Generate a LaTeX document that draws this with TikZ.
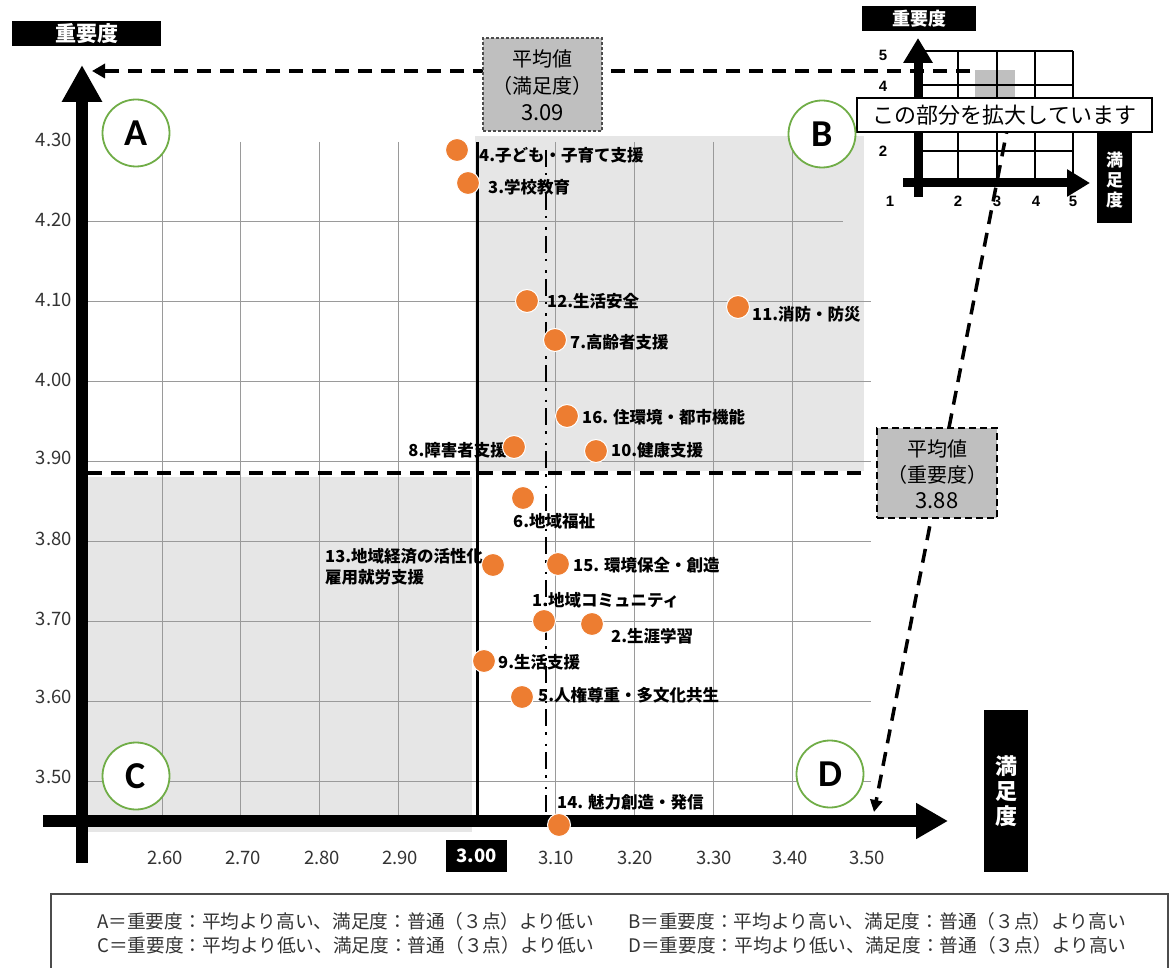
\documentclass[tikz,border=0pt]{standalone}
\usepackage{fontspec}
\setmainfont{Noto Sans CJK JP}
\newfontfamily\latb{Carlito}
\newfontfamily\arl{Liberation Sans}
\usetikzlibrary{arrows.meta}
\definecolor{orangept}{HTML}{ED7D31}
\definecolor{greenc}{HTML}{70AD47}
\definecolor{quadgray}{HTML}{E6E6E6}
\definecolor{boxgray}{HTML}{BFBFBF}
\definecolor{gridc}{HTML}{9A9A9A}
\definecolor{txt}{HTML}{333333}
\tikzset{
  pt/.style={circle, fill=orangept, draw=white, line width=1pt, minimum size=23pt, inner sep=0pt},
  lab/.style={font=\fontsize{16.5}{21}\selectfont\bfseries, inner sep=0pt, anchor=west},
  ytick/.style={font=\fontsize{18.5}{20}\selectfont, text=txt, anchor=east, inner sep=0pt},
  xtick/.style={font=\fontsize{18.5}{20}\selectfont, text=txt, inner sep=0pt},
  quad/.style={circle, draw=greenc, line width=1.8pt, fill=white, minimum size=67pt, inner sep=0pt, font=\latb\fontsize{38}{38}\selectfont\bfseries},
  gridline/.style={draw=gridc, line width=0.9pt},
  meandash/.style={line width=3.5pt, dash pattern=on 14pt off 9pt},
  blackbox/.style={fill=black, text=white, inner sep=0pt},
  insetnum/.style={font=\arl\fontsize{15}{15}\selectfont\bfseries, inner sep=0pt},
  legend/.style={font=\fontsize{18.7}{24}\selectfont, text=txt, anchor=west, inner sep=0pt, align=left},
}
\begin{document}
\begin{tikzpicture}[x=1pt,y=-1pt]
\useasboundingbox (0,0) rectangle (1173,968);

% shaded quadrants
\fill[quadgray] (475,136) rectangle (864,471);
\fill[quadgray] (88,477) rectangle (472,832);

% grid
\foreach \x in {162,240,319,398,555,634,713,792} \draw[gridline] (\x,142) -- (\x,821);
\draw[gridline] (88,221) -- (843,221);
\foreach \y in {301,381,461,541,621,701,781} \draw[gridline] (88,\y) -- (871,\y);

% mean lines
\coordinate (sattop) at (477,142);
\coordinate (satbot) at (477,815);
\draw[line width=3pt] (sattop) -- (satbot);
\coordinate (avgtop) at (546,150);
\coordinate (avgbot) at (546,815);
\draw[line width=2.8pt, dash pattern=on 17pt off 6pt on 2.5pt off 9pt on 2.5pt off 6pt] (avgtop) -- (avgbot);
\coordinate (impl) at (88,473);
\coordinate (impr) at (867,473);
\draw[meandash] (impl) -- (impr);

% inset grid
\fill[boxgray] (975,70) rectangle (1015,112);
\foreach \x in {958,997,1035,1073} \draw[line width=1.5pt] (\x,51) -- (\x,183);
\foreach \y in {51,85,118,151} \draw[line width=1.5pt] (923,\y) -- (1073,\y);

% top dashed arrow
\coordinate (topstart) at (970,71);
\coordinate (topend) at (92,71);
\draw[meandash, -{Triangle[length=13pt,width=14pt]}] (topstart) -- (topend);

% inset axes
\coordinate (iyb) at (918,197); \coordinate (iyt) at (918,38);
\draw[line width=9pt, -{Triangle[length=25pt,width=28pt]}] (iyb) -- (iyt);
\coordinate (ixl) at (903,183); \coordinate (ixr) at (1090,183);
\draw[line width=9pt, -{Triangle[length=23pt,width=26pt]}] (ixl) -- (ixr);
\node[insetnum] (i5) at (883,55) {5};
\node[insetnum] (i4) at (883,86) {4};
\node[insetnum] (i2) at (883,151) {2};
\node[insetnum] (h1) at (890,201) {1};
\node[insetnum] (h2) at (958,201) {2};
\node[insetnum] (h3) at (997,201) {3};
\node[insetnum] (h4) at (1036,201) {4};
\node[insetnum] (h5) at (1073,201) {5};
\node[blackbox, minimum width=114pt, minimum height=25pt, font=\fontsize{18}{18}\selectfont\bfseries] (ilabel) at (919,18.5) {重要度};
\node[blackbox, minimum width=35pt, minimum height=108pt] (isatbox) at (1114.5,169) {};
\node[text=white, align=center, inner sep=0pt, font=\fontsize{17}{20}\selectfont\bfseries] (isattext) at (1114.5,180) {満\\足\\度};

% diagonal dashed arrow
\coordinate (diagstart) at (1009,120);
\coordinate (diagend) at (874,812);
\draw[meandash, -{Triangle[length=12pt,width=12pt]}] (diagstart) -- (diagend);

% inset caption
\node[draw=black, line width=2pt, fill=white, minimum width=295pt, minimum height=34pt, inner sep=0pt, font=\fontsize{22}{22}\selectfont] (zoomcap) at (1004.5,115) {この部分を拡大しています};

% main axes
\coordinate (yb) at (82,863); \coordinate (yt) at (82,65);
\draw[line width=12pt, -{Triangle[length=37pt,width=38pt]}] (yb) -- (yt);
\coordinate (xl) at (43,821); \coordinate (xr) at (948,821);
\draw[line width=12pt, -{Triangle[length=32pt,width=34pt]}] (xl) -- (xr);

% axis titles
\node[blackbox, minimum width=149pt, minimum height=25pt, font=\fontsize{21}{21}\selectfont\bfseries] (ytitle) at (86.5,33.5) {重要度};
\node[blackbox, minimum width=44pt, minimum height=162pt, align=center, font=\fontsize{22}{25}\selectfont\bfseries] (xtitle) at (1006,791) {満\\足\\度};

% y ticks
\node[ytick] (y430) at (72,140) {4.30};
\node[ytick] (y420) at (72,220) {4.20};
\node[ytick] (y410) at (72,300) {4.10};
\node[ytick] (y400) at (72,380) {4.00};
\node[ytick] (y390) at (72,458) {3.90};
\node[ytick] (y380) at (72,539) {3.80};
\node[ytick] (y370) at (72,619) {3.70};
\node[ytick] (y360) at (72,697) {3.60};
\node[ytick] (y350) at (72,777) {3.50};

% x ticks
\node[xtick] (x260) at (165,858) {2.60};
\node[xtick] (x270) at (243,858) {2.70};
\node[xtick] (x280) at (322,858) {2.80};
\node[xtick] (x290) at (400,858) {2.90};
\node[blackbox, minimum width=61pt, minimum height=32pt, font=\fontsize{18.5}{20}\selectfont\bfseries] (x300) at (476.5,856) {3.00};
\node[xtick] (x310) at (556,858) {3.10};
\node[xtick] (x320) at (635,858) {3.20};
\node[xtick] (x330) at (714,858) {3.30};
\node[xtick] (x340) at (790,858) {3.40};
\node[xtick] (x350) at (867,858) {3.50};

% quadrant markers
\node[quad] (qA) at (136,133) {A};
\node[quad] (qB) at (822,134) {B};
\node[quad] (qC) at (136,776) {C};
\node[quad] (qD) at (830,774) {D};

% data labels
\node[lab] (l4) at (479,155) {4.子ども・子育て支援};
\node[lab] (l3) at (488,187) {3.学校教育};
\node[lab] (l12) at (547,301) {12.生活安全};
\node[lab] (l11) at (752,314) {11.消防・防災};
\node[lab] (l7) at (570,342) {7.高齢者支援};
\node[lab] (l16) at (582,417) {16. 住環境・都市機能};
\node[lab, anchor=east] (l8) at (507,450) {8.障害者支援};
\node[lab] (l10) at (611,450) {10.健康支援};
\node[lab] (l6) at (513,521) {6.地域福祉};
\node[lab, align=left] (l13) at (325,567) {13.地域経済の活性化\\雇用就労支援};
\node[lab] (l15) at (573,565) {15. 環境保全・創造};
\node[lab] (l1) at (532,600) {1.地域コミュニティ};
\node[lab] (l2) at (611,636) {2.生涯学習};
\node[lab] (l9) at (498,662) {9.生活支援};
\node[lab] (l5) at (538,695) {5.人権尊重・多文化共生};
\node[lab] (l14) at (557,802) {14. 魅力創造・発信};

% data points
\node[pt] (p4) at (457,150) {};
\node[pt] (p3) at (468,183) {};
\node[pt] (p12) at (527,301) {};
\node[pt] (p11) at (738,307) {};
\node[pt] (p7) at (555,340) {};
\node[pt] (p16) at (567,416) {};
\node[pt] (p8) at (514,447) {};
\node[pt] (p10) at (596,451) {};
\node[pt] (p6) at (523,498) {};
\node[pt] (p13) at (493,565) {};
\node[pt] (p15) at (558,564) {};
\node[pt] (p1) at (544,621) {};
\node[pt] (p2) at (592,624) {};
\node[pt] (p9) at (484,661) {};
\node[pt] (p5) at (522,697) {};
\node[pt] (p14) at (559,825) {};

% mean value boxes
\node[fill=boxgray, draw=black!70, line width=1.3pt, dash pattern=on 3pt off 2pt, minimum width=119pt, minimum height=93pt, inner sep=0pt] (avgsat) at (542.5,84.5) {};
\node[align=center, inner sep=0pt, font=\fontsize{20}{27}\selectfont] (avgsattext) at (542.5,85) {平均値\\（満足度）\\{\fontsize{22}{27}\selectfont 3.09}};
\node[fill=boxgray, draw=black, line width=2.5pt, dash pattern=on 7pt off 4pt, minimum width=120pt, minimum height=90pt, inner sep=0pt] (avgimp) at (937,473) {};
\node[align=center, inner sep=0pt, font=\fontsize{20}{26}\selectfont] (avgimptext) at (937,474) {平均値\\（重要度）\\{\fontsize{22}{26}\selectfont 3.88}};

% legend
\coordinate (lg1) at (51,968); \coordinate (lg2) at (51,894);
\coordinate (lg3) at (1168,894); \coordinate (lg4) at (1168,968);
\draw[draw=black!70, line width=1.5pt] (lg1) -- (lg2) -- (lg3) -- (lg4);
\node[legend] (legL) at (97,933) {A＝重要度：平均より高い、満足度：普通（３点）より低い\\C＝重要度：平均より低い、満足度：普通（３点）より低い};
\node[legend] (legR) at (628,933) {B＝重要度：平均より高い、満足度：普通（３点）より高い\\D＝重要度：平均より低い、満足度：普通（３点）より高い};
\end{tikzpicture}
\end{document}
